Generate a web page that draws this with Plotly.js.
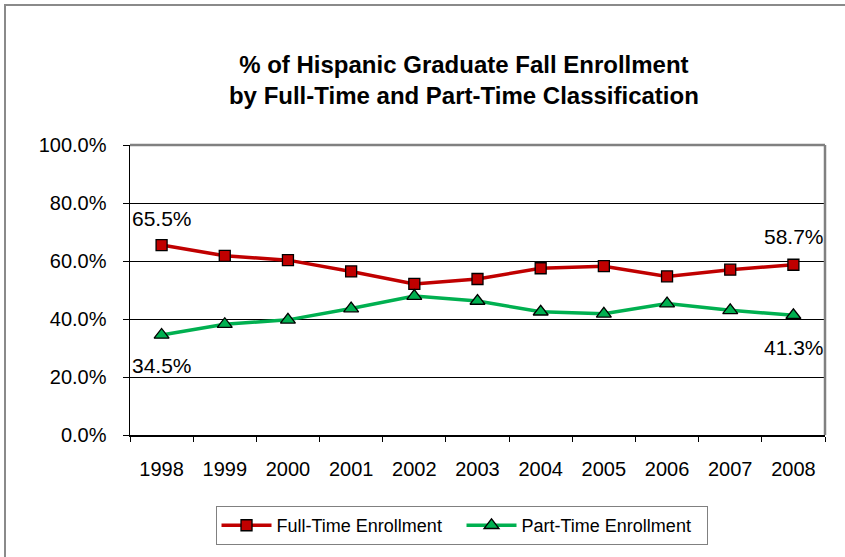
<!DOCTYPE html>
<html>
<head>
<meta charset="utf-8">
<script src="https://cdn.plot.ly/plotly-3.0.1.min.js"></script>
<style>
html,body{margin:0;padding:0;background:#fff;overflow:hidden;}
#wrap{position:relative;width:845px;height:557px;}
#chart{position:absolute;left:0;top:0;width:845px;height:557px;}
#frame{position:absolute;left:4px;top:4px;width:900px;height:600px;border-top:2px solid #8a8a8a;border-left:2px solid #8a8a8a;pointer-events:none;}
</style>
</head>
<body>
<div id="wrap"><div id="chart"></div><div id="frame"></div></div>
<script>
const years = ['1998','1999','2000','2001','2002','2003','2004','2005','2006','2007','2008'];
const fullTime = [65.5, 61.8, 60.3, 56.4, 52.1, 53.8, 57.5, 58.2, 54.7, 57.0, 58.7];
const partTime = [34.5, 38.2, 39.7, 43.6, 47.9, 46.2, 42.5, 41.8, 45.3, 43.0, 41.3];
const yTicks = [0, 20, 40, 60, 80, 100];
const yTickLabels = ['0.0%', '20.0%', '40.0%', '60.0%', '80.0%', '100.0%'];

const fontFamily = 'Liberation Sans, Arial, sans-serif';
const last = years.length - 1;

const traces = [
  {
    x: years, y: fullTime, name: 'Full-Time Enrollment', type: 'scatter', mode: 'lines+markers',
    line: {color: '#c00000', width: 3.5},
    marker: {symbol: 'square', size: 11, color: '#c00000', line: {color: '#000', width: 1.3}},
    hoverinfo: 'skip'
  },
  {
    x: years, y: partTime, name: 'Part-Time Enrollment', type: 'scatter', mode: 'lines+markers',
    line: {color: '#00b050', width: 3.5},
    marker: {symbol: 'triangle-up', size: 13, color: '#00b050', line: {color: '#000', width: 1.3}},
    hoverinfo: 'skip'
  }
];

const fmt = v => v.toFixed(1) + '%';
const labelSpecs = [
  {i: 0, v: fullTime[0], dy: 27, dx: 0},
  {i: last, v: fullTime[last], dy: 28, dx: 1},
  {i: 0, v: partTime[0], dy: -31, dx: 0},
  {i: last, v: partTime[last], dy: -32, dx: 1}
];
const annotations = labelSpecs.map(s => ({
  xref: 'x', yref: 'y', x: s.i, y: s.v, text: fmt(s.v), showarrow: false,
  xshift: s.dx, yshift: s.dy, xanchor: 'center', yanchor: 'middle',
  font: {family: fontFamily, size: 21, color: '#000'}
}));

const layout = {
  width: 845, height: 557,
  margin: {l: 130, r: 20, t: 145, b: 122, pad: 0},
  paper_bgcolor: 'rgba(0,0,0,0)', plot_bgcolor: '#fff',
  font: {family: fontFamily, size: 20, color: '#000'},
  title: {
    text: '<b>% of Hispanic Graduate Fall Enrollment<br>by Full-Time and Part-Time Classification</b>',
    font: {family: fontFamily, size: 24, color: '#000'},
    x: 0.549, xanchor: 'center', y: 0.869, yanchor: 'middle'
  },
  xaxis: {
    type: 'category', tickson: 'boundaries', ticks: 'outside', ticklen: 5, tickcolor: '#000', tickwidth: 1,
    showline: true, linecolor: '#000', linewidth: 1.5, showgrid: false, mirror: false,
    tickfont: {family: fontFamily, size: 20, color: '#000'}, fixedrange: true, range: [-0.5, 10.5], ticklabelstandoff: 15
  },
  yaxis: {
    range: [0, 100], tickvals: yTicks, ticktext: yTickLabels, ticks: 'outside', ticklen: 6, tickcolor: '#000',
    showline: true, linecolor: '#000', linewidth: 1.5, showgrid: true, gridcolor: '#000', gridwidth: 1,
    zeroline: false, tickfont: {family: fontFamily, size: 20, color: '#000'}, fixedrange: true, ticklabelstandoff: 12
  },
  shapes: [
    {type: 'line', xref: 'paper', yref: 'paper', x0: 0, x1: 1, y0: 1, y1: 1, line: {color: '#808080', width: 2.5}},
    {type: 'line', xref: 'paper', yref: 'paper', x0: 1, x1: 1, y0: 0, y1: 1, line: {color: '#808080', width: 2.5}}
  ],
  annotations: annotations,
  showlegend: true,
  legend: {
    orientation: 'h', x: 0.477, xanchor: 'center', y: -0.245, yanchor: 'top',
    bordercolor: '#808080', borderwidth: 1, bgcolor: '#fff', font: {family: fontFamily, size: 18, color: '#000'},
    itemwidth: 50, tracegroupgap: 0, entrywidth: 180, entrywidthmode: 'pixels'
  }
};

Plotly.newPlot('chart', traces, layout, {staticPlot: true, displayModeBar: false});
</script>
</body>
</html>
